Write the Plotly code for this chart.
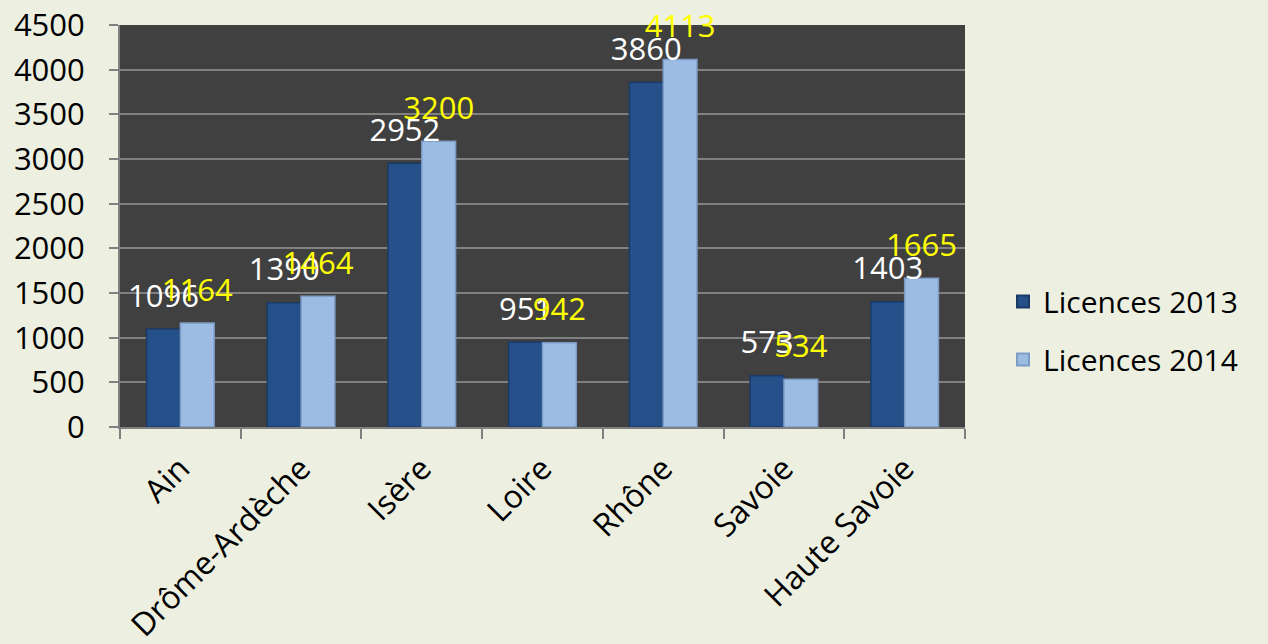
import plotly.graph_objects as go

categories = ["Ain", "Drôme-Ardèche", "Isère", "Loire", "Rhône", "Savoie", "Haute Savoie"]
licences_2013 = [1096, 1390, 2952, 951, 3860, 573, 1403]
licences_2014 = [1164, 1464, 3200, 942, 4113, 534, 1665]
y_ticks = [0, 500, 1000, 1500, 2000, 2500, 3000, 3500, 4000, 4500]

FONT = "Open Sans"
BG = "#EDF0E0"

fig = go.Figure()
fig.add_trace(go.Bar(
    x=categories, y=licences_2013, name="Licences 2013",
    offsetgroup="a", legendgroup="a",
    marker=dict(color="#25508A", line=dict(color="#1A3A66", width=1.5)),
))
fig.add_trace(go.Bar(
    x=categories, y=licences_2014, name="Licences 2014",
    offsetgroup="b", legendgroup="b",
    marker=dict(color="#9CBCE3", line=dict(color="#7C9CC6", width=1.5)),
))
fig.add_trace(go.Scatter(
    x=categories, y=licences_2013, mode="text+markers",
    text=[str(v) for v in licences_2013], textposition="top center",
    textfont=dict(color="white", size=31, family=FONT),
    marker=dict(size=22, opacity=0), offsetgroup="a",
    showlegend=False, hoverinfo="skip", cliponaxis=False,
))
fig.add_trace(go.Scatter(
    x=categories, y=licences_2014, mode="text+markers",
    text=[str(v) for v in licences_2014], textposition="top center",
    textfont=dict(color="#FFFF00", size=31, family=FONT),
    marker=dict(size=22, opacity=0), offsetgroup="b",
    showlegend=False, hoverinfo="skip", cliponaxis=False,
))

fig.update_layout(
    width=1268, height=644,
    margin=dict(l=120, r=303, t=25, b=217, autoexpand=False),
    paper_bgcolor=BG, plot_bgcolor="#404040",
    barmode="group", bargap=0.44, bargroupgap=0,
    scattermode="group", scattergap=0.44,
    font=dict(family=FONT, size=30, color="black"),
    legend=dict(x=1.045, xanchor="left", y=0.24, yanchor="middle",
                font=dict(size=30, family=FONT, color="black"),
                bgcolor="rgba(0,0,0,0)", traceorder="grouped", tracegroupgap=16,
                itemsizing="constant"),
    showlegend=True,
)
fig.update_yaxes(
    range=[0, 4500], tickvals=y_ticks, ticktext=[str(v) for v in y_ticks],
    showgrid=True, gridcolor="#808080", gridwidth=2,
    showline=True, linecolor="#808080", linewidth=2,
    ticks="outside", ticklen=9, tickcolor="#808080", tickwidth=2,
    ticklabelstandoff=18, automargin=False,
    tickfont=dict(size=31, family=FONT, color="black"), zeroline=False,
)
fig.update_xaxes(
    tickangle=-45, tickson="boundaries", ticks="outside", ticklen=10,
    tickcolor="#808080", tickwidth=2, showline=True, linecolor="#808080", linewidth=2,
    ticklabelstandoff=8, automargin=False,
    tickfont=dict(size=32, family=FONT, color="black"), showgrid=False,
)

fig.write_html(
    "out.html",
    config={"displayModeBar": False},
    post_script="document.body.style.margin='0';document.body.style.background='#EDF0E0';",
)
